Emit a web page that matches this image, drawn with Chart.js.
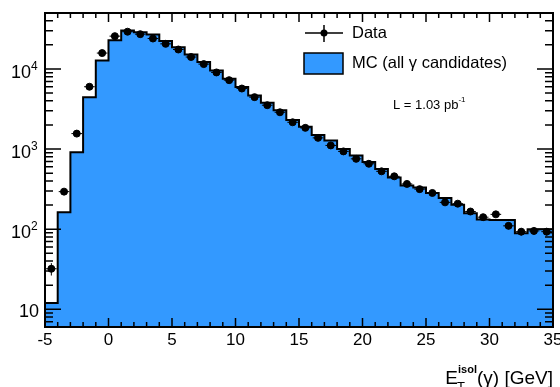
<!DOCTYPE html>
<html lang="en">
<head>
<meta charset="UTF-8">
<title>Isolation energy</title>
<script src="https://cdn.jsdelivr.net/npm/chart.js@4.4.0/dist/chart.umd.min.js"></script>
<style>
body { margin: 0; background: #fff; }
#wrap { width: 560px; height: 387px; }
</style>
</head>
<body>
<div id="wrap"><canvas id="myChart" width="560" height="387"></canvas></div>
<script>
// bin centres in GeV, bin width 1
const binCenters = [-4.5, -3.5, -2.5, -1.5, -0.5, 0.5, 1.5, 2.5, 3.5, 4.5,
    5.5, 6.5, 7.5, 8.5, 9.5, 10.5, 11.5, 12.5, 13.5, 14.5,
    15.5, 16.5, 17.5, 18.5, 19.5, 20.5, 21.5, 22.5, 23.5, 24.5,
    25.5, 26.5, 27.5, 28.5, 29.5, 30.5, 31.5, 32.5, 33.5, 34.5];
const binWidth = 1;

// MC (all gamma candidates)
const mcCounts = [12, 162, 910, 4440, 12800, 22900, 30300, 28800, 27000, 22300,
    18700, 15200, 12200, 9600, 7550, 5950, 4650, 3800, 3050, 2300,
    1900, 1500, 1280, 1000, 830, 690, 565, 440, 350, 330,
    283, 245, 202, 158, 132, 130, 130, 89, 100, 100];

// Data
const dataCounts = [32, 294, 1560, 6000, 15800, 25700, 29200, 27200, 24000, 20600,
    17500, 14100, 11500, 9050, 7250, 5700, 4450, 3530, 2880, 2160,
    1840, 1380, 1110, 935, 755, 655, 527, 457, 367, 316,
    283, 216, 208, 166, 141, 153, 110, 93, 95, 93];

const xTickLabels = [-5, 0, 5, 10, 15, 20, 25, 30, 35];
const yTickLabels = [10, 100, 1000, 10000];
const xRange = [-5, 35];
const yRange = [6, 50000];

const mcColor = '#3399ff';
const font = "'Liberation Sans', Arial, sans-serif";

// histogram outline: left edges + closing right edge
const mcSteps = binCenters.map((c, i) => ({ x: c - binWidth / 2, y: mcCounts[i] }));
mcSteps.push({ x: binCenters[binCenters.length - 1] + binWidth / 2, y: mcCounts[mcCounts.length - 1] });

const dataPoints = binCenters.map((c, i) => ({ x: c, y: dataCounts[i] }));

const decorations = {
    id: 'decorations',
    afterDatasetsDraw(chart) {
        const { ctx, scales: { x, y } } = chart;
        ctx.save();
        ctx.strokeStyle = '#000';
        ctx.lineWidth = 1;
        ctx.beginPath();
        dataPoints.forEach(p => {
            const err = Math.sqrt(p.y);
            const px = x.getPixelForValue(p.x), py = y.getPixelForValue(p.y);
            ctx.moveTo(x.getPixelForValue(p.x - 0.42 * binWidth), py);
            ctx.lineTo(x.getPixelForValue(p.x + 0.42 * binWidth), py);
            ctx.moveTo(px, y.getPixelForValue(p.y - err));
            ctx.lineTo(px, y.getPixelForValue(p.y + err));
        });
        ctx.stroke();
        ctx.restore();
    },
    afterDraw(chart) {
        const { ctx, chartArea: a, scales: { x, y } } = chart;
        ctx.save();
        ctx.strokeStyle = '#000';
        ctx.fillStyle = '#000';

        // ticks, inside the frame
        ctx.lineWidth = 1.5;
        ctx.beginPath();
        for (let v = xRange[0]; v <= xRange[1]; v += 1) {
            const px = x.getPixelForValue(v);
            const len = v % 5 === 0 ? 9 : 5;
            ctx.moveTo(px, a.bottom); ctx.lineTo(px, a.bottom - len);
            ctx.moveTo(px, a.top); ctx.lineTo(px, a.top + len);
        }
        for (let d = 1; d <= 10000; d *= 10) {
            for (let m = 1; m <= 9; m++) {
                const v = d * m;
                if (v < yRange[0] || v > yRange[1]) continue;
                const py = y.getPixelForValue(v);
                const len = m === 1 ? 16 : 8;
                ctx.moveTo(a.left, py); ctx.lineTo(a.left + len, py);
                ctx.moveTo(a.right, py); ctx.lineTo(a.right - len, py);
            }
        }
        ctx.stroke();

        // frame
        ctx.lineWidth = 2;
        ctx.strokeRect(a.left, a.top, a.right - a.left, a.bottom - a.top);

        // x labels
        ctx.font = '17px ' + font;
        ctx.textAlign = 'center';
        ctx.textBaseline = 'alphabetic';
        xTickLabels.forEach(v => ctx.fillText(String(v), x.getPixelForValue(v), 345));

        // y labels
        yTickLabels.forEach(v => {
            const py = y.getPixelForValue(v);
            const exp = Math.round(Math.log10(v));
            ctx.font = '18px ' + font;
            ctx.textAlign = 'right';
            if (exp === 1) {
                ctx.fillText('10', 39, py + 8);
            } else {
                ctx.fillText('10', 31, py + 9);
                ctx.font = '12px ' + font;
                ctx.textAlign = 'left';
                ctx.fillText(String(exp), 31, py + 1);
            }
        });

        // x title, right aligned to frame
        ctx.textAlign = 'left';
        ctx.font = '19px ' + font;
        const wE = ctx.measureText('E').width;
        const rest = '(\u03b3) [GeV]';
        const wRest = ctx.measureText(rest).width;
        ctx.font = 'bold 11px ' + font;
        const wSup = ctx.measureText('isol').width;
        let tx = a.right - wRest - wSup - wE;
        ctx.font = '19px ' + font;
        ctx.fillText('E', tx, 384);
        ctx.font = 'bold 11px ' + font;
        ctx.fillText('isol', tx + wE, 373);
        ctx.font = '13px ' + font;
        ctx.fillText('T', tx + wE - 1, 391);
        ctx.font = '19px ' + font;
        ctx.fillText(rest, tx + wE + wSup, 384);

        // legend
        ctx.lineWidth = 1.5;
        ctx.beginPath();
        ctx.moveTo(305, 33); ctx.lineTo(343, 33);
        ctx.moveTo(324, 25); ctx.lineTo(324, 42);
        ctx.stroke();
        ctx.beginPath();
        ctx.arc(324, 33, 3.5, 0, Math.PI * 2);
        ctx.fill();
        ctx.fillStyle = mcColor;
        ctx.fillRect(304, 53, 39, 21);
        ctx.strokeRect(304, 53, 39, 21);
        ctx.fillStyle = '#000';
        ctx.font = '16.5px ' + font;
        ctx.fillText('Data', 352, 38);
        ctx.fillText('MC (all \u03b3 candidates)', 352, 68);

        // luminosity
        ctx.font = '13px ' + font;
        ctx.fillText('L = 1.03 pb', 393, 109);
        const wL = ctx.measureText('L = 1.03 pb').width;
        ctx.font = '8px ' + font;
        ctx.fillText('-1', 393 + wL, 102);

        ctx.restore();
    }
};

new Chart(document.getElementById('myChart').getContext('2d'), {
    type: 'scatter',
    data: {
        datasets: [{
            label: 'Data',
            data: dataPoints,
            backgroundColor: '#000',
            borderColor: '#000',
            pointRadius: 3.5,
            pointHoverRadius: 3.5,
            showLine: false,
            order: 0
        }, {
            type: 'line',
            label: 'MC (all \u03b3 candidates)',
            data: mcSteps,
            stepped: 'before',
            borderColor: '#000',
            borderWidth: 2,
            backgroundColor: mcColor,
            fill: 'start',
            pointRadius: 0,
            tension: 0,
            order: 1
        }]
    },
    options: {
        responsive: false,
        animation: false,
        layout: { padding: { left: 45, right: 7, top: 13, bottom: 60 } },
        plugins: { legend: { display: false }, tooltip: { enabled: false } },
        scales: {
            x: { type: 'linear', min: xRange[0], max: xRange[1], display: false },
            y: { type: 'logarithmic', min: yRange[0], max: yRange[1], display: false }
        }
    },
    plugins: [decorations]
});
</script>
</body>
</html>
